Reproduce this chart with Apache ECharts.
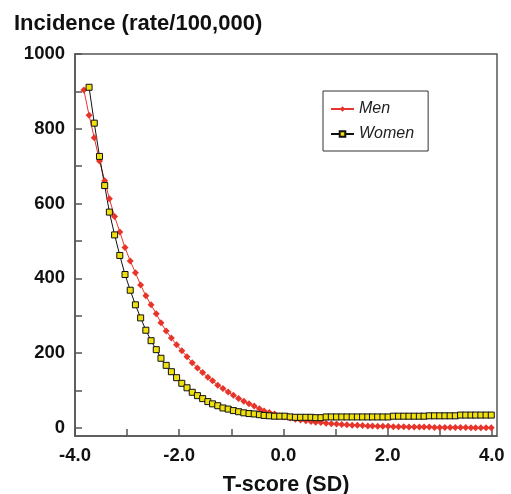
<!DOCTYPE html>
<html>
<head>
<meta charset="utf-8">
<script src="https://cdn.jsdelivr.net/npm/echarts@6/dist/echarts.min.js"></script>
<style>
  html, body { margin: 0; padding: 0; background: #fff; }
  #chart { width: 511px; height: 494px; }
</style>
</head>
<body>
<div id="chart"></div>
<script>
// T-score grid (SD), shared by both series; women start one step later
var tScore = [-3.83, -3.73, -3.63, -3.53, -3.43, -3.34, -3.24, -3.14, -3.04, -2.94,
  -2.84, -2.74, -2.64, -2.54, -2.44, -2.35, -2.25, -2.15, -2.05, -1.95,
  -1.85, -1.75, -1.65, -1.55, -1.45, -1.36, -1.26, -1.16, -1.06, -0.96,
  -0.86, -0.76, -0.66, -0.56, -0.46, -0.37, -0.27, -0.17, -0.07, 0.03,
  0.13, 0.23, 0.33, 0.43, 0.53, 0.62, 0.72, 0.82, 0.92, 1.02,
  1.12, 1.22, 1.32, 1.42, 1.52, 1.62, 1.71, 1.81, 1.91, 2.01,
  2.11, 2.21, 2.31, 2.41, 2.51, 2.61, 2.70, 2.80, 2.90, 3.00,
  3.10, 3.20, 3.30, 3.40, 3.50, 3.60, 3.69, 3.79, 3.89, 3.99];

var menRate = [904, 836, 776, 714, 661, 613, 565, 524, 482, 446,
  415, 382, 353, 329, 305, 281, 259, 240, 222, 206,
  190, 174, 160, 148, 135, 126, 114, 105, 96, 87,
  78, 71, 64, 58, 51, 45, 41, 37, 32, 29,
  26, 23, 21, 19, 17, 15, 14, 12, 11, 10,
  9, 8, 7, 7, 6, 5, 5, 4, 4, 4,
  3, 3, 3, 2, 2, 2, 2, 2, 1, 1,
  1, 1, 1, 1, 1, 0, 0, 0, 0, 0];

var womenRate = [911, 815, 726, 648, 577, 516, 461, 410, 368, 329,
  294, 261, 233, 209, 186, 167, 150, 134, 119, 107,
  95, 86, 78, 70, 64, 59, 53, 50, 46, 43,
  40, 38, 37, 35, 33, 32, 31, 31, 31, 29,
  28, 28, 28, 28, 27, 27, 29, 29, 29, 29,
  29, 29, 29, 29, 29, 29, 29, 29, 29, 31,
  31, 31, 31, 31, 31, 31, 32, 32, 32, 32,
  32, 32, 34, 34, 34, 34, 34, 34, 34];

var xLabels = [-4, -2, 0, 2, 4];
var xTicks = [-4, -3, -2, -1, 0, 1, 2, 3, 4];
var yLabels = [0, 200, 400, 600, 800, 1000];
var yTicks = [0, 100, 200, 300, 400, 500, 600, 700, 800, 900, 1000];

var font = '"Liberation Sans", Arial, Helvetica, sans-serif';

function pairs(xs, ys) {
  var out = [];
  for (var i = 0; i < ys.length; i++) out.push([xs[i], ys[i]]);
  return out;
}

var myChart = echarts.init(document.getElementById('chart'));
var option = {
  animation: false,
  title: {
    text: 'Incidence (rate/100,000)',
    left: 9,
    top: 8,
    textStyle: { fontFamily: font, fontSize: 22, fontWeight: 'bold', color: '#111' }
  },
  legend: {
    orient: 'vertical',
    left: 323,
    top: 91,
    padding: [10, 14, 9, 7],
    itemWidth: 23,
    itemHeight: 7,
    itemGap: 9,
    borderColor: '#333',
    borderWidth: 1,
    textStyle: { fontFamily: font, fontSize: 16, fontStyle: 'italic', color: '#222' },
    data: ['Men', 'Women']
  },
  grid: {
    left: 75, right: 14, top: 54, bottom: 58,
    outerBoundsMode: 'none',
    show: true, borderColor: '#555', borderWidth: 1.5
  },
  xAxis: {
    type: 'value',
    min: -4,
    max: 4.1,
    name: 'T-score (SD)',
    nameLocation: 'middle',
    nameGap: 38,
    nameTextStyle: { fontFamily: font, fontSize: 21.5, fontWeight: 'bold', color: '#111' },
    axisLine: { onZero: false, lineStyle: { color: '#555', width: 1.5 } },
    axisTick: { inside: true, length: 7, customValues: xTicks, lineStyle: { color: '#555', width: 1.5 } },
    axisLabel: {
      customValues: xLabels,
      margin: 10,
      fontFamily: font, fontSize: 18.5, fontWeight: 'bold', color: '#111',
      formatter: function (v) { return v.toFixed(1); }
    },
    splitLine: { show: false }
  },
  yAxis: {
    type: 'value',
    min: -22,
    max: 1000,
    axisLine: { show: true, onZero: false, lineStyle: { color: '#555', width: 1.5 } },
    axisTick: { show: true, inside: true, length: 7, customValues: yTicks, lineStyle: { color: '#555', width: 1.5 } },
    axisLabel: {
      customValues: yLabels,
      margin: 10,
      fontFamily: font, fontSize: 18.5, fontWeight: 'bold', color: '#111',
      formatter: function (v) { return String(v); }
    },
    splitLine: { show: false }
  },
  series: [
    {
      name: 'Men',
      type: 'line',
      data: pairs(tScore, menRate),
      symbol: 'diamond',
      symbolSize: 7,
      lineStyle: { color: '#e8352b', width: 1 },
      itemStyle: { color: '#e8352b' }
    },
    {
      name: 'Women',
      type: 'line',
      data: pairs(tScore.slice(1), womenRate),
      symbol: 'rect',
      symbolSize: 6,
      lineStyle: { color: '#111', width: 1 },
      itemStyle: { color: '#f0e010', borderColor: '#111', borderWidth: 1 }
    }
  ]
};
myChart.setOption(option);
</script>
</body>
</html>
